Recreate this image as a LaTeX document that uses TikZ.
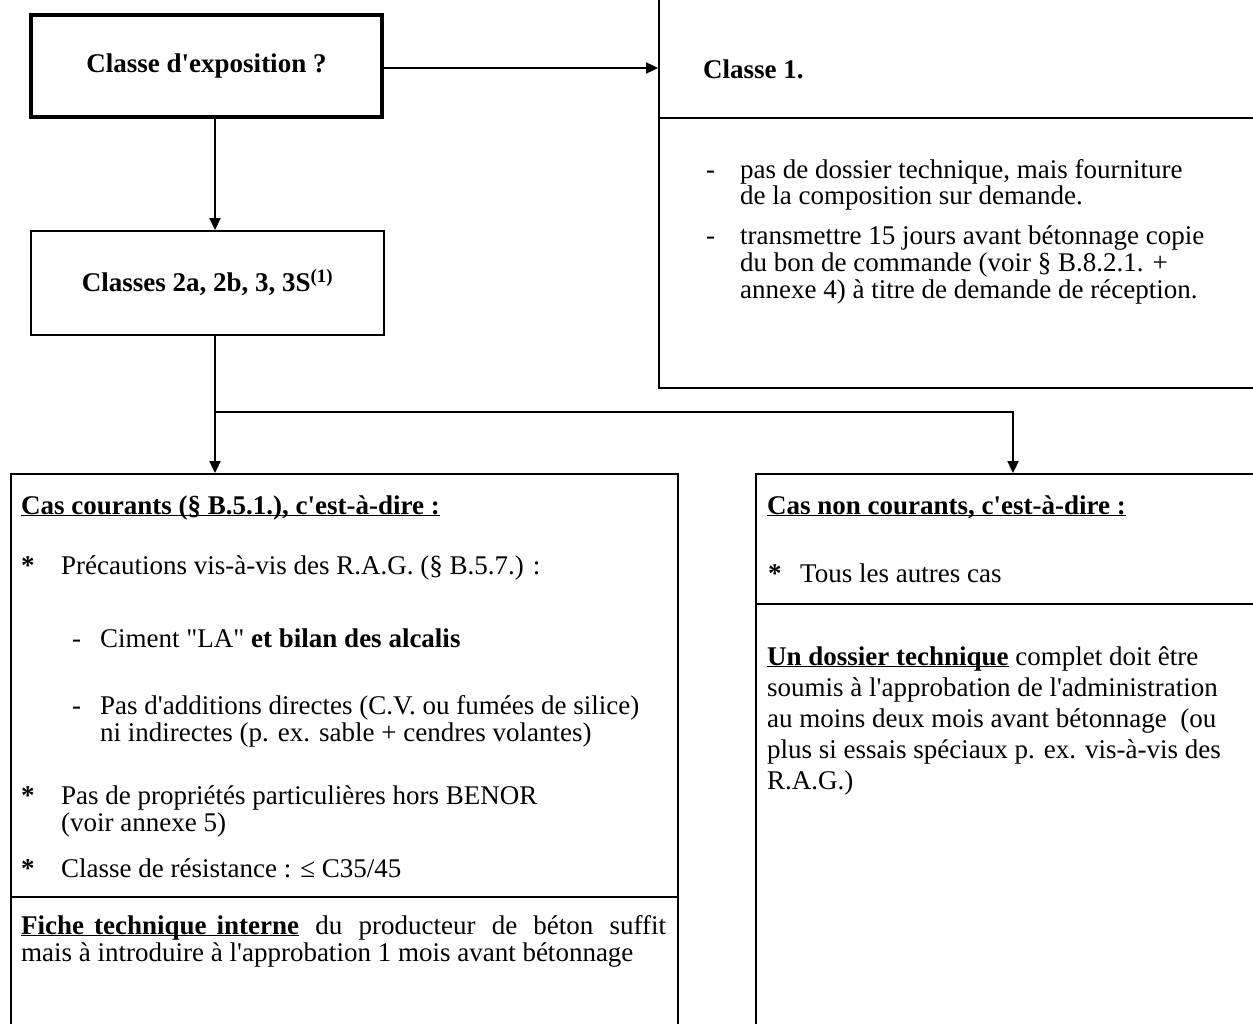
\documentclass[tikz,border=0pt]{standalone}
\usepackage{fontspec}
\newfontfamily\tnr{Liberation Serif}
\usetikzlibrary{arrows.meta}
\newcommand\ulx[1]{\underline{\smash{#1}}}
\begin{document}
\begin{tikzpicture}[x=1pt,y=-1pt,
  conn/.style={line width=1.8pt},
  arr/.style={conn,-{Triangle[length=12pt,width=11pt]}},
  frame/.style={draw,line width=1.8pt,inner sep=0pt,rectangle},
  ln/.style={inner sep=0pt,anchor=base west,font=\tnr\fontsize{27}{31}\selectfont},
  hd/.style={ln,font=\tnr\bfseries\fontsize{27}{31}\selectfont},
]
\useasboundingbox (0,0) rectangle (1253,1024);
\fill[white] (0,0) rectangle (1253,1024);
\begin{scope}
\clip (0,0) rectangle (1253,1024);
\node[frame,line width=4.5pt,minimum width=351pt,minimum height=102pt,
      font=\tnr\bfseries\fontsize{27}{31}\selectfont] (expo) at (206.5,66) {Classe d'exposition ?};
\node[frame,minimum width=611pt,minimum height=430pt] (cl1) at (964.5,173) {};
\node[frame,minimum width=353pt,minimum height=104pt,
      font=\tnr\bfseries\fontsize{27}{31}\selectfont] (cl2) at (207.5,283) {Classes 2a, 2b, 3, 3S\textsuperscript{(1)}};
\node[frame,minimum width=667pt,minimum height=600pt] (cc) at (344.5,774) {};
\node[frame,minimum width=514pt,minimum height=600pt] (cnc) at (1013,774) {};
\end{scope}
% dividers
\coordinate (y1) at (0,118);
\coordinate (y2) at (0,897);
\coordinate (y3) at (0,604);
\draw[conn] (cl1.west |- y1) -- (1253,118);
\draw[conn] (cc.west |- y2) -- (cc.east |- y2);
\draw[conn] (cnc.west |- y3) -- (1253,604);
% connectors
\coordinate (ay) at (0,68);
\coordinate (split) at (215,412);
\draw[arr] (expo.east |- ay) -- (cl1.west |- ay);
\draw[arr] (expo.south -| split) -- (cl2.north -| split);
\draw[arr] (cl2.south -| split) -- (split) -| (cnc.north);
\draw[arr] (split) -- (cc.north -| split);
% Classe 1 box
\node[hd] (h1) at (703,79) {Classe 1.};
\node[ln] (d1) at (706,179) {-};
\node[ln] (a1) at (740,179) {pas de dossier technique, mais fourniture};
\node[ln] (a2) at (740,205) {de la composition sur demande.};
\node[ln] (d2) at (706,245) {-};
\node[ln] (a3) at (740,245) {transmettre 15 jours avant bétonnage copie};
\node[ln] (a4) at (740,272) {du bon de commande (voir § B.8.2.1. +};
\node[ln] (a5) at (740,299) {annexe 4) à titre de demande de réception.};
% Cas courants
\node[hd] (h2) at (21,514) {\ulx{Cas courants (§ B.5.1.), c'est-à-dire :}};
\node[ln] (s1) at (21,574) {\textbf{*}};
\node[ln] (b1) at (61,574) {Précautions vis-à-vis des R.A.G. (§ B.5.7.) :};
\node[ln] (d3) at (72,647) {-};
\node[ln] (b2) at (100,647) {Ciment "LA" \textbf{et bilan des alcalis}};
\node[ln] (d4) at (72,714) {-};
\node[ln] (b3) at (100,714) {Pas d'additions directes (C.V. ou fumées de silice)};
\node[ln] (b4) at (100,741) {ni indirectes (p. ex. sable + cendres volantes)};
\node[ln] (s2) at (21,804) {\textbf{*}};
\node[ln] (b5) at (61,804) {Pas de propriétés particulières hors BENOR};
\node[ln] (b6) at (61,831) {(voir annexe 5)};
\node[ln] (s3) at (21,877) {\textbf{*}};
\node[ln] (b7) at (61,877) {Classe de résistance : ≤ C35/45};
\node[ln] (b8) at (21,934) {\hbox to 645pt{\ulx{\textbf{Fiche\hskip 10pt technique\hskip 10pt interne}}\hfill du\hfill producteur\hfill de\hfill béton\hfill suffit}};
\node[ln] (b9) at (21,961) {mais à introduire à l'approbation 1 mois avant bétonnage};
% Cas non courants
\node[hd] (h3) at (767,514) {\ulx{Cas non courants, c'est-à-dire :}};
\node[ln] (s4) at (768,582) {\textbf{*}};
\node[ln] (c1) at (800,582) {Tous les autres cas};
\node[ln] (c2) at (767,665) {\ulx{\textbf{Un dossier technique}} complet doit être};
\node[ln] (c3) at (767,696) {soumis à l'approbation de l'administration};
\node[ln] (c4) at (767,727) {au moins deux mois avant bétonnage\ \ (ou};
\node[ln] (c5) at (767,758) {plus si essais spéciaux p. ex. vis-à-vis des};
\node[ln] (c6) at (767,789) {R.A.G.)};
\end{tikzpicture}
\end{document}
